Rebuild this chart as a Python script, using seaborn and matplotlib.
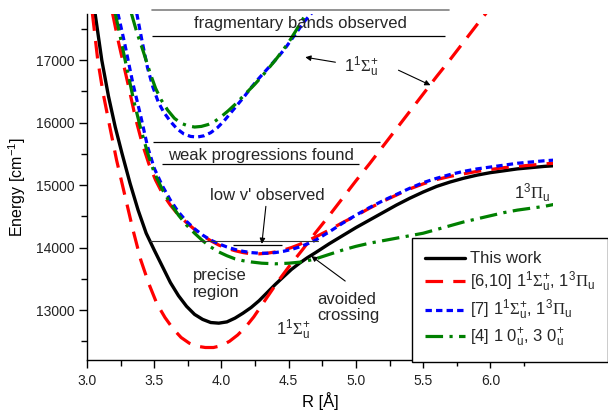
import matplotlib
matplotlib.use("Agg")
import matplotlib.pyplot as plt
import matplotlib.ticker as mticker
import pandas as pd
import seaborn as sns

# Potential energy curves: internuclear distance R (Å) and energy (cm^-1)

# This work (coupled A/b system)
r_this_work = [3.06, 3.11, 3.16, 3.21, 3.26, 3.32, 3.38, 3.44, 3.50, 3.56, 3.62, 3.68,
               3.74, 3.80, 3.86, 3.92, 3.98, 4.04, 4.10, 4.16, 4.22, 4.28, 4.34, 4.40,
               4.46, 4.52, 4.58, 4.64, 4.70, 4.80, 4.90, 5.00, 5.10, 5.20, 5.30, 5.40,
               5.50, 5.60, 5.70, 5.80, 5.90, 6.00, 6.10, 6.20, 6.30, 6.40, 6.47]
e_this_work = [17750, 17000, 16420, 15930, 15510, 15030, 14600, 14230, 13960, 13700, 13440, 13230,
               13060, 12930, 12850, 12800, 12790, 12810, 12870, 12950, 13040, 13150, 13280, 13410,
               13530, 13650, 13750, 13840, 13920, 14060, 14190, 14320, 14440, 14560, 14680, 14790,
               14890, 14980, 15050, 15110, 15160, 15200, 15230, 15260, 15280, 15300, 15310]

# Ref. [6,10]: 1^1Sigma+_u
r_ref610_sigma = [3.04, 3.08, 3.12, 3.17, 3.22, 3.28, 3.34, 3.40, 3.46, 3.52, 3.58, 3.64,
                  3.70, 3.76, 3.82, 3.88, 3.94, 4.00, 4.06, 4.12, 4.18, 4.24, 4.30, 4.36,
                  4.42, 4.50, 4.60, 4.70, 4.80, 4.90, 5.00, 5.10, 5.20, 5.30, 5.40, 5.50,
                  5.60, 5.70, 5.80, 5.90, 5.97]
e_ref610_sigma = [17750, 17000, 16470, 15930, 15400, 14850, 14300, 13800, 13420, 13100, 12880, 12700,
                  12560, 12470, 12420, 12400, 12400, 12430, 12500, 12600, 12730, 12890, 13080, 13270,
                  13460, 13690, 13960, 14240, 14510, 14790, 15070, 15340, 15620, 15900, 16180, 16460,
                  16740, 17010, 17290, 17570, 17760]

# Ref. [6,10]: 1^3Pi_u
r_ref610_pi = [3.19, 3.23, 3.27, 3.31, 3.36, 3.41, 3.46, 3.51, 3.56, 3.62, 3.68, 3.74,
               3.80, 3.86, 3.92, 3.98, 4.04, 4.10, 4.16, 4.22, 4.28, 4.34, 4.40, 4.46,
               4.52, 4.58, 4.64, 4.70, 4.80, 4.90, 5.00, 5.10, 5.20, 5.30, 5.40, 5.50,
               5.60, 5.70, 5.80, 5.90, 6.00, 6.10, 6.20, 6.30, 6.40, 6.47]
e_ref610_pi = [17750, 17330, 16950, 16570, 16080, 15670, 15340, 15080, 14870, 14680, 14520, 14400,
               14290, 14190, 14110, 14040, 13990, 13950, 13920, 13900, 13900, 13910, 13930, 13960,
               14000, 14050, 14110, 14170, 14280, 14400, 14510, 14630, 14740, 14840, 14940, 15020,
               15090, 15140, 15180, 15220, 15250, 15280, 15300, 15320, 15340, 15350]

# Ref. [7]: 1^1Sigma+_u (upper well)
r_ref7_sigma = [3.37, 3.41, 3.45, 3.49, 3.53, 3.57, 3.62, 3.67, 3.72, 3.77, 3.82, 3.87,
                3.92, 3.97, 4.02, 4.07, 4.12, 4.17, 4.22, 4.27, 4.32, 4.37, 4.42, 4.47,
                4.52, 4.57, 4.62, 4.67]
e_ref7_sigma = [17750, 17300, 16880, 16570, 16330, 16170, 16020, 15900, 15820, 15780, 15770, 15790,
                15840, 15920, 16030, 16160, 16290, 16420, 16560, 16690, 16810, 16930, 17050, 17180,
                17330, 17480, 17630, 17750]

# Ref. [7]: 1^3Pi_u
r_ref7_pi = [3.23, 3.28, 3.34, 3.40, 3.45, 3.50, 3.56, 3.62, 3.68, 3.74, 3.80, 3.86,
             3.92, 3.98, 4.04, 4.10, 4.16, 4.22, 4.28, 4.34, 4.40, 4.46, 4.52, 4.58,
             4.64, 4.70, 4.80, 4.90, 5.00, 5.10, 5.20, 5.30, 5.40, 5.50, 5.60, 5.70,
             5.80, 5.90, 6.00, 6.10, 6.20, 6.30, 6.40, 6.47]
e_ref7_pi = [17750, 17270, 16640, 16100, 15620, 15270, 14990, 14760, 14570, 14420, 14300, 14200,
             14120, 14060, 14010, 13970, 13940, 13920, 13910, 13910, 13920, 13940, 13970, 14010,
             14060, 14120, 14250, 14390, 14520, 14640, 14750, 14850, 14950, 15040, 15110, 15170,
             15220, 15260, 15290, 15320, 15350, 15370, 15390, 15400]

# Ref. [4]: 3 0+_u (upper well)
r_ref4_upper = [3.33, 3.37, 3.42, 3.47, 3.51, 3.55, 3.60, 3.65, 3.70, 3.75, 3.80, 3.85,
                3.90, 3.95, 4.00, 4.05, 4.10, 4.15, 4.20, 4.25, 4.30, 4.35, 4.40, 4.45,
                4.50, 4.55, 4.60, 4.63]
e_ref4_upper = [17750, 17450, 17130, 16790, 16550, 16370, 16200, 16070, 15990, 15950, 15930, 15940,
                15970, 16020, 16100, 16190, 16290, 16400, 16510, 16620, 16740, 16870, 17000, 17140,
                17290, 17460, 17640, 17750]

# Ref. [4]: 1 0+_u
r_ref4_lower = [3.21, 3.25, 3.30, 3.35, 3.40, 3.45, 3.50, 3.56, 3.62, 3.68, 3.74, 3.80,
                3.86, 3.92, 3.98, 4.04, 4.10, 4.16, 4.22, 4.30, 4.40, 4.50, 4.60, 4.70,
                4.80, 4.90, 5.00, 5.10, 5.20, 5.30, 5.40, 5.50, 5.60, 5.70, 5.80, 5.90,
                6.00, 6.10, 6.20, 6.30, 6.40, 6.47]
e_ref4_lower = [17750, 17350, 16830, 16330, 15900, 15520, 15200, 14930, 14710, 14520, 14360, 14230,
                14110, 14010, 13930, 13870, 13820, 13790, 13770, 13750, 13740, 13750, 13770, 13820,
                13890, 13960, 14020, 14070, 14110, 14150, 14190, 14230, 14290, 14350, 14410, 14460,
                14510, 14560, 14600, 14630, 14660, 14690]

SIGMA = r"$1^1\mathrm{\Sigma}^{+}_{u}$"
PI = r"$1^3\mathrm{\Pi}_u$"
legend_labels = [
    "This work",
    f"[6,10] {SIGMA}, {PI}",
    f"[7] {SIGMA}, {PI}",
    r"[4] 1 $0^{+}_{u}$, 3 $0^{+}_{u}$",
]

sns.set_theme(style="ticks")
plt.rcParams["font.family"] = ["Liberation Sans", "DejaVu Sans"]
plt.rcParams["mathtext.fontset"] = "custom"
plt.rcParams["mathtext.rm"] = "Liberation Serif"
plt.rcParams["mathtext.it"] = "Liberation Sans:italic"
plt.rcParams["mathtext.default"] = "regular"

fig = plt.figure(figsize=(6.08, 4.12), dpi=100)
ax = fig.add_axes([87 / 608, 1 - 360 / 412, (553 - 87) / 608, (360 - 14) / 412])

styles = {
    "black": dict(color="black", lw=2.4, linestyle="-"),
    "red": dict(color="#ff0000", lw=2.3, linestyle=(0, (5.5, 3.2))),
    "blue": dict(color="#0000ff", lw=2.3, linestyle=(0, (2.0, 1.3))),
    "green": dict(color="#008000", lw=2.3, linestyle=(0, (5.5, 2.0, 1.0, 2.0))),
}

curves = [
    ("black", r_this_work, e_this_work, legend_labels[0]),
    ("red", r_ref610_sigma, e_ref610_sigma, legend_labels[1]),
    ("red", r_ref610_pi, e_ref610_pi, None),
    ("blue", r_ref7_sigma, e_ref7_sigma, legend_labels[2]),
    ("blue", r_ref7_pi, e_ref7_pi, None),
    ("green", r_ref4_upper, e_ref4_upper, legend_labels[3]),
    ("green", r_ref4_lower, e_ref4_lower, None),
]

handles = []
for key, rr, ee, lab in curves:
    df = pd.DataFrame({"R": rr, "E": ee})
    n_before = len(ax.lines)
    sns.lineplot(data=df, x="R", y="E", ax=ax, sort=False, estimator=None,
                 errorbar=None, legend=False, dash_capstyle="butt", **styles[key])
    line = ax.lines[n_before]
    if lab is not None:
        line.set_label(lab)
        handles.append(line)

ax.set_xlim(3.0, 6.465)
ax.set_ylim(12200, 17740)
ax.xaxis.set_major_locator(mticker.MultipleLocator(0.5))
ax.xaxis.set_minor_locator(mticker.MultipleLocator(0.25))
ax.xaxis.set_major_formatter(mticker.FormatStrFormatter("%.1f"))
ax.yaxis.set_major_locator(mticker.FixedLocator([13000, 14000, 15000, 16000, 17000]))
ax.yaxis.set_minor_locator(mticker.FixedLocator([12500, 13500, 14500, 15500, 16500, 17500]))
ax.yaxis.set_major_formatter(mticker.FormatStrFormatter("%d"))
ax.tick_params(which="major", direction="out", length=6, width=1, labelsize=10,
               color="black", labelcolor="#222222")
ax.tick_params(which="minor", direction="out", length=4, width=1, color="black")
ax.tick_params(axis="x", pad=4)
ax.tick_params(axis="y", pad=3)
sns.despine(ax=ax)
for side in ("left", "bottom"):
    ax.spines[side].set_linewidth(1.0)
    ax.spines[side].set_color("black")

ax.set_xlabel("R [Å]", fontsize=12, labelpad=3, color="black")
ax.set_ylabel(r"Energy [cm$^{-1}$]", fontsize=11.5, labelpad=6, color="black")

# Spectroscopic coverage markers
thin = dict(color="black", lw=0.9, solid_capstyle="butt")
ax.plot([3.484, 5.69], [17800, 17800], color="#808080", lw=1.2, clip_on=False)
ax.plot([3.484, 5.66], [17384, 17384], **thin)
ax.text(4.586, 17592, "fragmentary bands observed", fontsize=12, ha="center", va="center")

ax.plot([3.49, 5.18], [15688, 15688], **thin)
ax.plot([3.56, 5.02], [15336, 15336], **thin)
ax.text(4.295, 15480, "weak progressions found", fontsize=12, ha="center", va="center")

ax.plot([3.47, 4.72], [14112, 14112], color="#333333", lw=0.8)
ax.plot([4.087, 4.452], [14040, 14040], **thin)
ax.text(4.34, 14840, "low v' observed", fontsize=12, ha="center", va="center")

arrow = dict(arrowstyle="-|>", color="black", lw=0.8, mutation_scale=8, shrinkA=0, shrinkB=0)
ax.annotate("", xy=(4.30, 14060), xytext=(4.33, 14660), arrowprops=arrow)

ax.text(3.79, 13420, "precise\nregion", fontsize=12, ha="left", va="center", linespacing=1.15)
ax.text(4.71, 13040, "avoided\ncrossing", fontsize=12, ha="left", va="center", linespacing=1.15)
ax.annotate("", xy=(4.668, 13864), xytext=(4.92, 13464), arrowprops=arrow)

ax.text(4.534, 12690, SIGMA, fontsize=12, ha="center", va="center")
ax.text(5.04, 16888, SIGMA, fontsize=12, ha="center", va="center")
ax.annotate("", xy=(4.623, 17048), xytext=(4.847, 16968), arrowprops=arrow)
ax.annotate("", xy=(5.554, 16600), xytext=(5.316, 16840), arrowprops=arrow)
ax.text(6.306, 14880, PI, fontsize=12, ha="center", va="center")

leg = ax.legend(handles=handles, labels=legend_labels, loc="upper left",
                bbox_to_anchor=(412 / 608, 1 - 238 / 412), bbox_transform=fig.transFigure,
                frameon=True, fancybox=False, framealpha=1, edgecolor="black",
                fontsize=12, handlelength=2.4, handletextpad=0.25, borderpad=0.8,
                labelspacing=0.22, borderaxespad=0)
leg.get_frame().set_linewidth(1.0)

fig.savefig("out.png", dpi=100)
